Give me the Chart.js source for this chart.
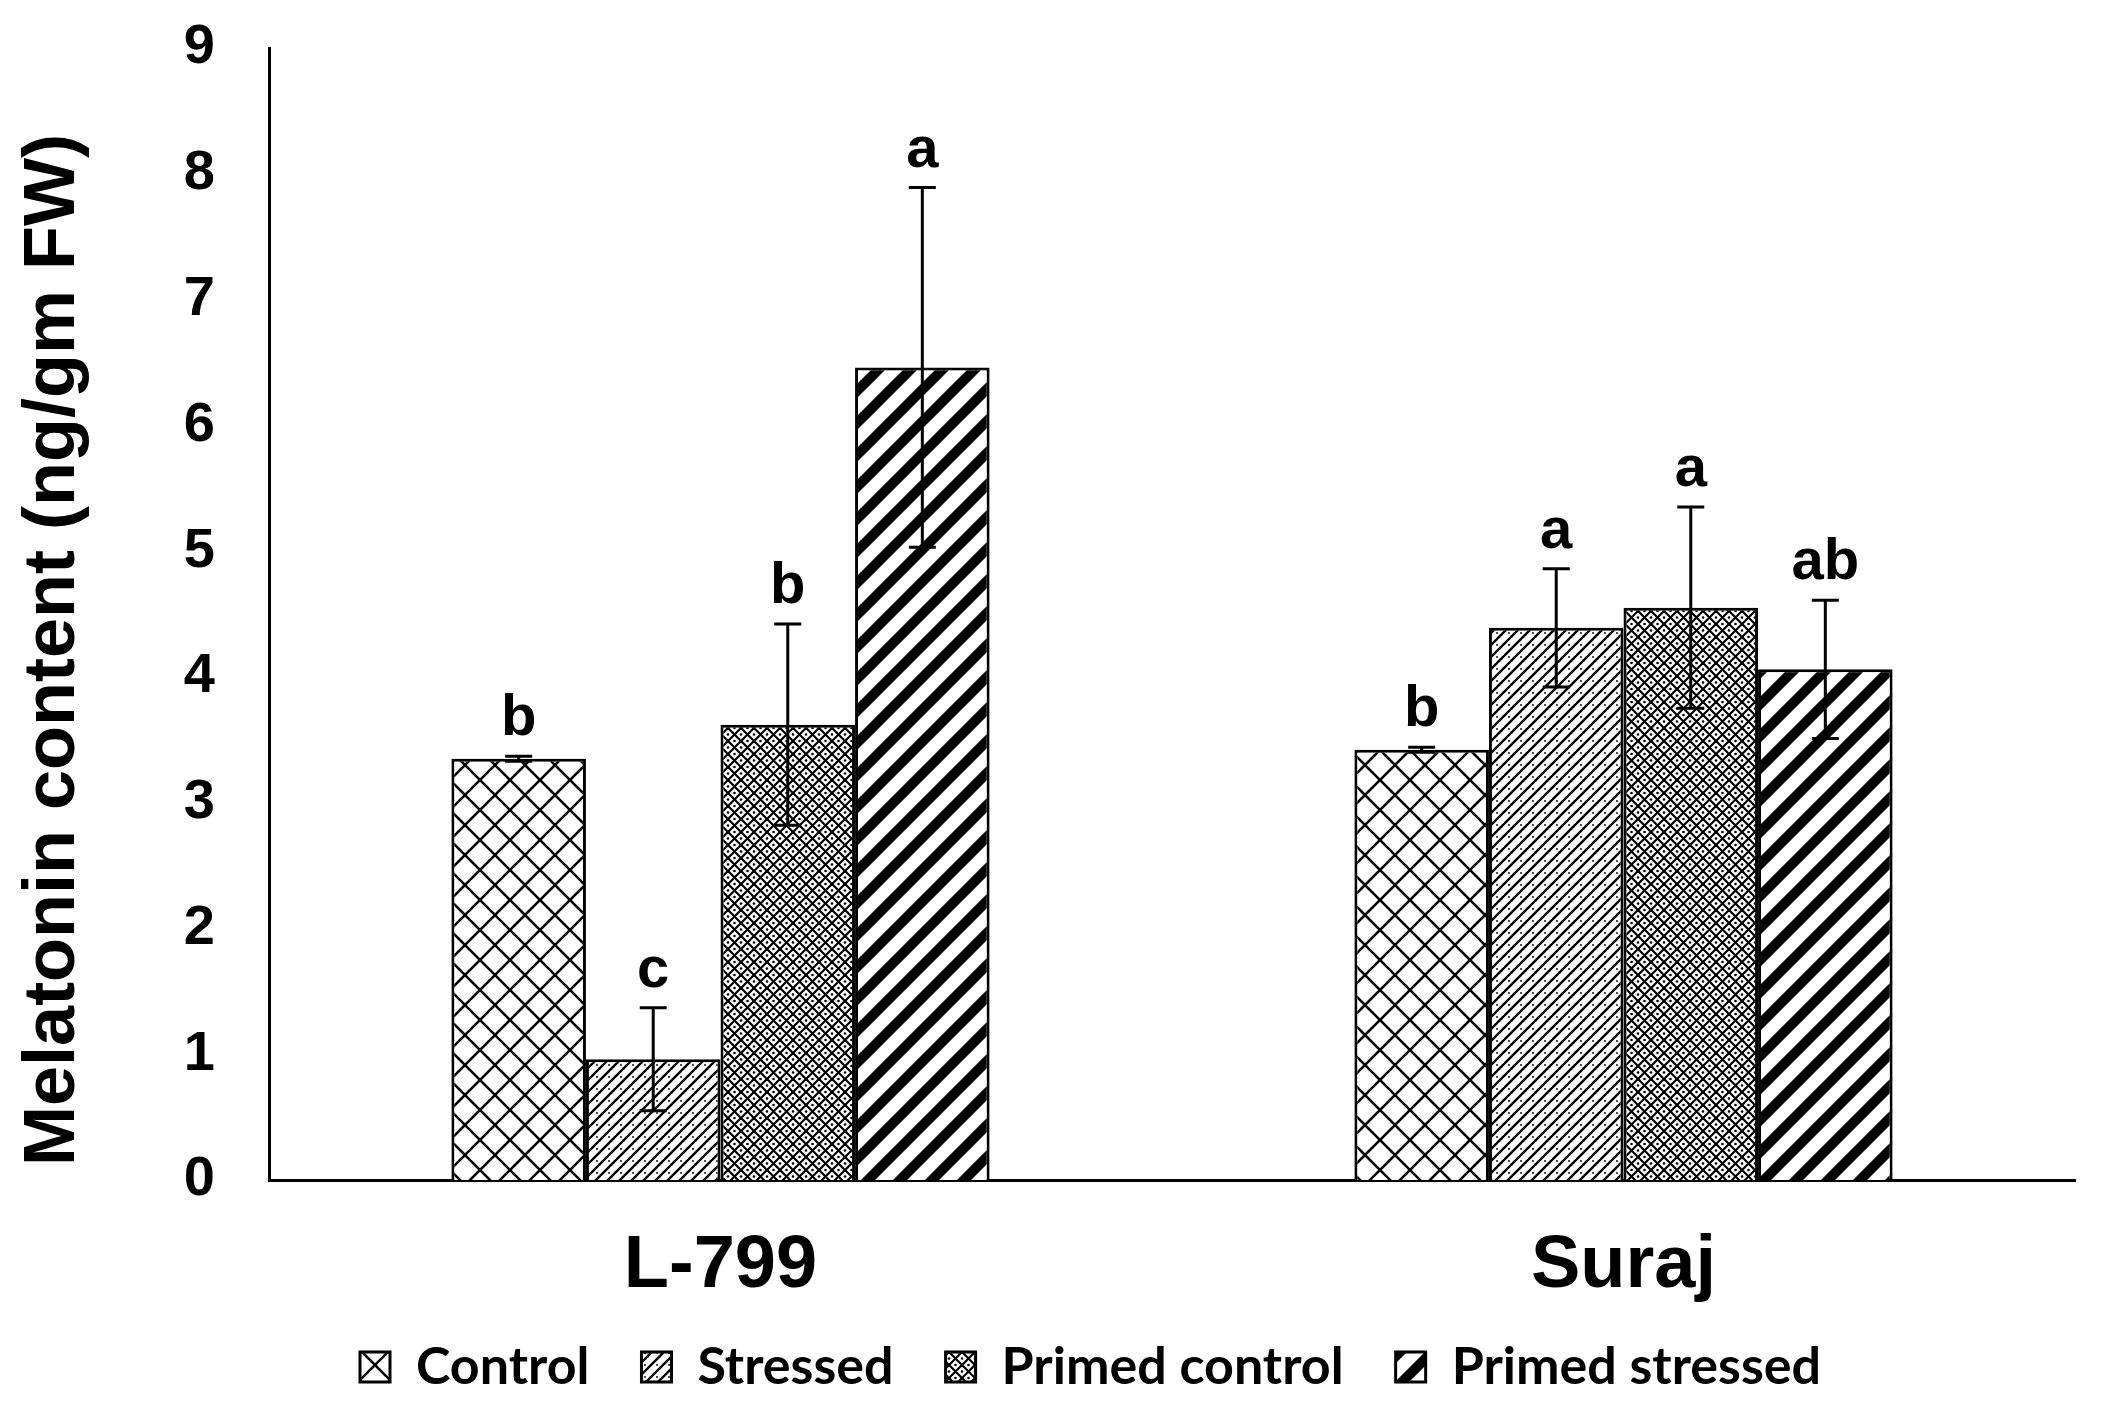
<!DOCTYPE html>
<html>
<head>
<meta charset="utf-8">
<script src="https://cdn.jsdelivr.net/npm/chart.js@4.4.1/dist/chart.umd.min.js"></script>
<style>
  html, body { margin: 0; padding: 0; background: #fff; }
  #wrap { width: 2102px; height: 1414px; }
</style>
</head>
<body>
<div id="wrap"><canvas id="c" width="2102" height="1414"></canvas></div>
<script>
// ---- data ----
const categories = ['L-799', 'Suraj'];
const seriesNames = ['Control', 'Stressed', 'Primed control', 'Primed stressed'];
const controlValues = [3.35, 3.42];
const controlErrors = [0.02, 0.02];
const stressedValues = [0.96, 4.39];
const stressedErrors = [0.41, 0.47];
const primedControlValues = [3.62, 4.55];
const primedControlErrors = [0.80, 0.80];
const primedStressedValues = [6.46, 4.06];
const primedStressedErrors = [1.43, 0.55];
const controlLetters = ['b', 'b'];
const stressedLetters = ['c', 'a'];
const primedControlLetters = ['b', 'a'];
const primedStressedLetters = ['a', 'ab'];
const yMin = 0, yMax = 9, yStep = 1;
const yTitle = 'Melatonin content (ng/gm FW)';

// ---- fonts ----
const SANS = "'Liberation Sans', Arial, sans-serif";
const LEGEND_FONT = "Lato, 'Liberation Sans', sans-serif";

// ---- patterns ----
function makeTile(size, drawFn) {
  const c = document.createElement('canvas');
  c.width = size; c.height = size;
  const g = c.getContext('2d');
  g.fillStyle = '#fff';
  g.fillRect(0, 0, size, size);
  g.strokeStyle = '#000';
  g.fillStyle = '#000';
  drawFn(g, size);
  return document.getElementById('c').getContext('2d').createPattern(c, 'repeat');
}
function forward(g, s, w) {
  g.lineWidth = w;
  g.lineCap = 'square';
  for (const x0 of [-s, 0, s]) {
    g.beginPath(); g.moveTo(x0, s); g.lineTo(x0 + s, 0); g.stroke();
  }
}
function backward(g, s, w) {
  g.lineWidth = w;
  g.lineCap = 'square';
  for (const x0 of [-s, 0, s]) {
    g.beginPath(); g.moveTo(x0, 0); g.lineTo(x0 + s, s); g.stroke();
  }
}
const patControl = makeTile(30, (g, s) => { forward(g, s, 2.6); backward(g, s, 2.6); });
const patStressed = makeTile(12, (g, s) => {
  forward(g, s, 2.4);
  g.beginPath(); g.arc(s * 0.75, s * 0.75, 0.9, 0, Math.PI * 2); g.fill();
});
const patPrimedControl = makeTile(13, (g, s) => {
  forward(g, s, 2.2); backward(g, s, 2.2);
  const h = s / 2;
  for (const [x, y] of [[h, 0], [h, s], [0, h], [s, h]]) {
    g.beginPath(); g.arc(x, y, 1.3, 0, Math.PI * 2); g.fill();
  }
});
const patPrimedStressed = makeTile(32, (g, s) => { forward(g, s, 10); });

const seriesValues = [controlValues, stressedValues, primedControlValues, primedStressedValues];
const seriesErrors = [controlErrors, stressedErrors, primedControlErrors, primedStressedErrors];
const seriesLetters = [controlLetters, stressedLetters, primedControlLetters, primedStressedLetters];
const seriesPatterns = [patControl, patStressed, patPrimedControl, patPrimedStressed];

const datasets = seriesNames.map((name, i) => ({
  label: name,
  data: seriesValues[i],
  errors: seriesErrors[i],
  letters: seriesLetters[i],
  backgroundColor: seriesPatterns[i],
  borderColor: '#000',
  borderWidth: 3,
  borderSkipped: 'start',
  categoryPercentage: 0.596,
  barPercentage: 1.0
}));

// ---- plugins ----
const errorBarPlugin = {
  id: 'errorBars',
  afterDatasetsDraw(chart) {
    const ctx = chart.ctx;
    const yScale = chart.scales.y;
    ctx.save();
    ctx.strokeStyle = '#000';
    ctx.lineWidth = 3;
    ctx.lineCap = 'butt';
    chart.data.datasets.forEach((ds, di) => {
      const meta = chart.getDatasetMeta(di);
      meta.data.forEach((bar, j) => {
        const v = ds.data[j], e = ds.errors[j];
        const x = bar.x;
        const yTop = yScale.getPixelForValue(v + e);
        const yBot = yScale.getPixelForValue(v - e);
        const cap = 13.5;
        ctx.beginPath();
        ctx.moveTo(x, yTop); ctx.lineTo(x, yBot);
        ctx.moveTo(x - cap, yTop); ctx.lineTo(x + cap, yTop);
        ctx.moveTo(x - cap, yBot); ctx.lineTo(x + cap, yBot);
        ctx.stroke();
        ctx.fillStyle = '#000';
        ctx.font = 'bold 58px ' + SANS;
        ctx.textAlign = 'center';
        ctx.textBaseline = 'alphabetic';
        ctx.fillText(ds.letters[j], x, yTop - 21);
      });
    });
    ctx.restore();
  }
};

const LEGEND_START_X = 360;
const LEGEND_TEXT_Y = 1367;
const legendShiftPlugin = {
  id: 'legendShift',
  afterLayout(chart) {
    const l = chart.legend;
    if (!l || !l.lineWidths) return;
    const pad = l.options.labels.padding;
    const fs = l.options.labels.font.size;
    const start = (l.left + pad + l.right - l.lineWidths[0]) / 2;
    const dx = LEGEND_START_X - start;
    const dy = LEGEND_TEXT_Y - (l.top + pad + fs / 2);
    l.left += dx; l.right += dx;
    l.top += dy; l.bottom += dy;
  }
};

const CHART_BOTTOM = 1180;
const BOTTOM_PAD = -20;

new Chart(document.getElementById('c'), {
  type: 'bar',
  data: { labels: categories, datasets },
  options: {
    responsive: false,
    devicePixelRatio: 1,
    animation: false,
    layout: { padding: { left: 0, right: 27, top: 48, bottom: BOTTOM_PAD } },
    plugins: {
      legend: {
        position: 'bottom',
        labels: {
          color: '#000',
          font: { family: LEGEND_FONT, size: 52, weight: 'bold' },
          boxWidth: 30,
          boxHeight: 30,
          padding: 52
        }
      },
      tooltip: { enabled: false },
      title: { display: false }
    },
    scales: {
      x: {
        grid: { display: false, drawTicks: false },
        border: { display: true, color: '#000', width: 3 },
        ticks: {
          color: '#000',
          font: { family: SANS, size: 74, weight: 'bold' },
          padding: 42
        },
        afterFit(scale) {
          const lh = scale.chart.legend ? scale.chart.legend.height : 0;
          scale.height = 1414 - CHART_BOTTOM - lh - BOTTOM_PAD;
          scale.paddingLeft = 0;
          scale.paddingRight = 0;
        }
      },
      y: {
        min: yMin,
        max: yMax,
        grid: { display: false, drawTicks: false },
        border: { display: true, color: '#000', width: 3 },
        ticks: {
          stepSize: yStep,
          color: '#000',
          font: { family: SANS, size: 56, weight: 'bold' },
          padding: 54
        },
        title: {
          display: true,
          text: yTitle + '\u2002\u2002',
          color: '#000',
          font: { family: SANS, size: 72, weight: 'bold', lineHeight: 1.2 },
          padding: { top: 11, bottom: 0 }
        },
        afterFit(scale) {
          scale.width = 269;
          scale.paddingTop = 0;
          scale.paddingBottom = 0;
        }
      }
    }
  },
  plugins: [errorBarPlugin, legendShiftPlugin]
});
</script>
</body>
</html>
